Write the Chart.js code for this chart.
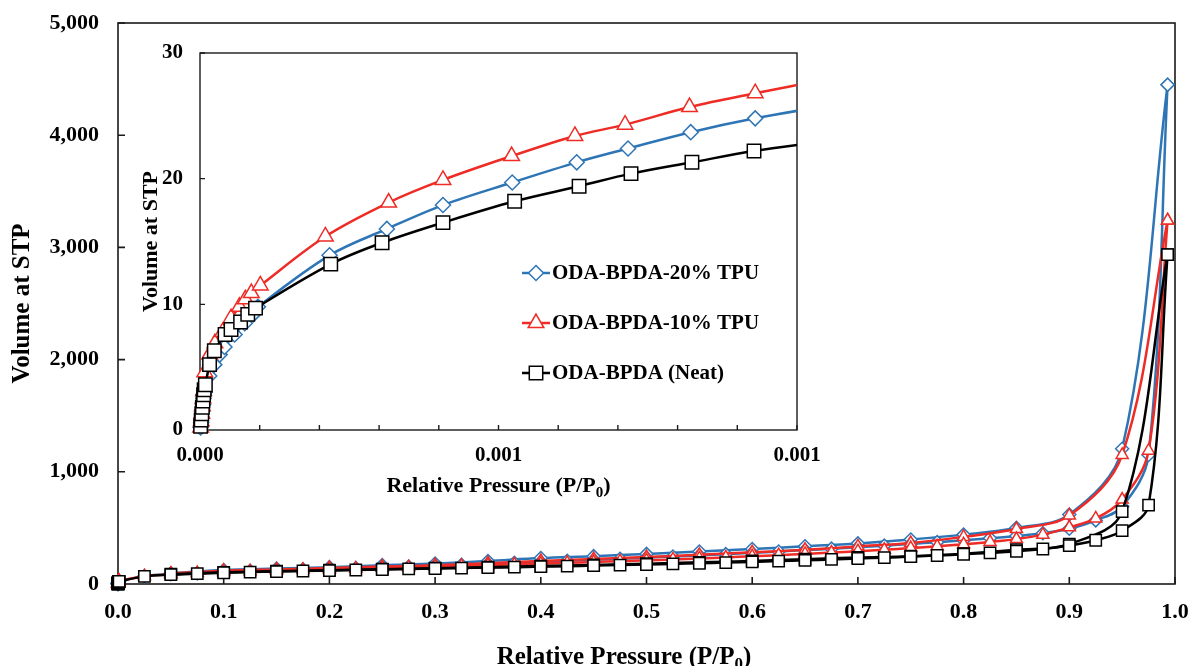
<!DOCTYPE html>
<html>
<head>
<meta charset="utf-8">
<script src="https://cdn.jsdelivr.net/npm/chart.js@4.4.0/dist/chart.umd.min.js"></script>
<style>
  html, body { margin: 0; padding: 0; background: #ffffff; }
  #wrap { position: relative; width: 1191px; height: 666px; overflow: hidden; }
  canvas { position: absolute; }
</style>
</head>
<body>
<div id="wrap">
  <canvas id="mainChart" width="1191" height="666" style="left:0;top:0;"></canvas>
  <canvas id="insetChart" width="700" height="470" style="left:130px;top:40px;"></canvas>
</div>
<script>
// ---------------- DATA ----------------
const seriesNames = ["ODA-BPDA-20% TPU", "ODA-BPDA-10% TPU", "ODA-BPDA (Neat)"];

// Main axis tick labels
const mainXTickLabels = ["0.0", "0.1", "0.2", "0.3", "0.4", "0.5", "0.6", "0.7", "0.8", "0.9", "1.0"];
const mainYTickLabels = ["0", "1,000", "2,000", "3,000", "4,000", "5,000"];
// Inset axis tick labels (major ticks only)
const insetXTickLabels = ["0.000", "0.001", "0.001"];
const insetYTickLabels = ["0", "10", "20", "30"];

// Low-pressure part of the adsorption branch (seen in the inset)
const blueLowX = [0.000001, 0.000002, 0.000003, 0.000004, 0.000005, 0.000006, 0.000008, 0.0000155, 0.000024, 0.000033, 0.000041, 0.000058, 0.000075, 0.000089, 0.000097, 0.000217, 0.000313, 0.000407, 0.000523, 0.000631, 0.000717, 0.000822, 0.00093, 0.00105];
const blueLowY = [0.2, 0.6, 1.0, 1.5, 2.0, 2.5, 3.0, 4.3, 5.2, 6.0, 6.6, 7.6, 8.5, 9.2, 9.8, 13.9, 16.0, 17.9, 19.7, 21.3, 22.4, 23.7, 24.8, 25.8];

const redLowX = [0.000001, 0.000002, 0.000003, 0.000004, 0.000005, 0.000006, 0.000008, 0.000016, 0.000025, 0.000038, 0.000052, 0.000066, 0.000076, 0.000086, 0.000101, 0.00021, 0.000316, 0.000407, 0.000522, 0.000628, 0.000712, 0.00082, 0.00093, 0.00105];
const redLowY = [0.2, 0.7, 1.3, 1.9, 2.5, 3.1, 4.6, 6.0, 6.9, 7.8, 8.9, 9.8, 10.4, 10.9, 11.5, 15.4, 18.1, 19.9, 21.8, 23.4, 24.3, 25.7, 26.8, 27.9];

const blackLowX = [0.000001, 0.000002, 0.000003, 0.000004, 0.000005, 0.000006, 0.000007, 0.000009, 0.000016, 0.000024, 0.000042, 0.000052, 0.000068, 0.00008, 0.000093, 0.000219, 0.000305, 0.000407, 0.000527, 0.000635, 0.000722, 0.000824, 0.000928, 0.00105];
const blackLowY = [0.3, 0.8, 1.3, 1.8, 2.3, 2.8, 3.2, 3.6, 5.2, 6.3, 7.6, 8.0, 8.6, 9.2, 9.7, 13.2, 14.9, 16.5, 18.2, 19.4, 20.4, 21.3, 22.2, 23.0];

// Adsorption branch, relative pressures 0.025 ... 0.975 and the top point
const adsX = [0.025, 0.05, 0.075, 0.1, 0.125, 0.15, 0.175, 0.2, 0.225, 0.25, 0.275, 0.3, 0.325, 0.35, 0.375, 0.4, 0.425, 0.45, 0.475, 0.5, 0.525, 0.55, 0.575, 0.6, 0.625, 0.65, 0.675, 0.7, 0.725, 0.75, 0.775, 0.8, 0.825, 0.85, 0.875, 0.9, 0.925, 0.95, 0.975, 0.993];
const blueAdsY  = [70, 88, 95, 108, 117, 125, 132, 138, 143, 150, 156, 163, 172, 180, 189, 198, 207, 216, 225, 235, 245, 255, 266, 278, 290, 302, 315, 328, 342, 357, 373, 390, 408, 428, 452, 492, 567, 690, 1150, 4450];
const redAdsY   = [70, 88, 98, 106, 113, 120, 126, 132, 138, 144, 150, 156, 162, 168, 175, 182, 189, 196, 203, 211, 219, 228, 237, 247, 257, 268, 280, 292, 305, 320, 336, 354, 375, 400, 440, 505, 584, 753, 1188, 3240];
const blackAdsY = [68, 83, 92, 100, 106, 111, 116, 120, 125, 129, 134, 138, 142, 146, 150, 155, 159, 164, 169, 174, 179, 185, 191, 197, 204, 211, 219, 227, 235, 244, 254, 265, 277, 292, 312, 342, 390, 475, 703, 2935];

// Desorption branch
const desX = [0.993, 0.95, 0.9, 0.85, 0.8, 0.75, 0.7, 0.65, 0.6, 0.55, 0.5, 0.45, 0.4, 0.35, 0.3, 0.25, 0.2, 0.15, 0.1, 0.05];
const blueDesY  = [4450, 1205, 620, 500, 440, 397, 362, 336, 312, 290, 268, 248, 231, 205, 182, 168, 150, 138, 125, 95];
const redDesY   = [3240, 1150, 611, 490, 420, 365, 335, 305, 282, 260, 240, 222, 205, 185, 168, 155, 142, 130, 118, 92];
const blackDesY = [2935, 645, 356, 305, 270, 248, 236, 221, 206, 193, 181, 170, 160, 150, 141, 132, 123, 114, 104, 88];

// ---------------- STYLE ----------------
const FONT = "'Liberation Serif', 'Times New Roman', serif";
const series = [
  { name: seriesNames[0], color: '#2E75B6', style: 'rectRot',  lowX: blueLowX,  lowY: blueLowY,  ads: blueAdsY,  des: blueDesY,  order: 3, rMain: 6.5, rInset: 7.5 },
  { name: seriesNames[1], color: '#EE2B24', style: 'triangle', lowX: redLowX,   lowY: redLowY,   ads: redAdsY,   des: redDesY,   order: 2, rMain: 7,   rInset: 9 },
  { name: seriesNames[2], color: '#000000', style: 'rect',     lowX: blackLowX, lowY: blackLowY, ads: blackAdsY, des: blackDesY, order: 1, rMain: 8,   rInset: 9.5 }
];

function pts(xs, ys) { return xs.map((x, i) => ({ x: x, y: ys[i] })); }

function lineDataset(label, data, s, r, order, clip) {
  return {
    label: label,
    data: data,
    showLine: true,
    borderColor: s.color,
    borderWidth: 2.5,
    tension: 0.35,
    borderJoinStyle: 'round',
    borderCapStyle: 'round',
    pointStyle: s.style,
    pointRadius: r,
    pointBorderWidth: 1.5,
    pointBorderColor: s.color,
    pointBackgroundColor: '#ffffff',
    order: order,
    clip: clip
  };
}

function drawMarker(ctx, style, r, x, y, color) {
  ctx.beginPath();
  if (style === 'rect') {
    const s = r * Math.SQRT1_2;
    ctx.rect(x - s, y - s, 2 * s, 2 * s);
  } else if (style === 'rectRot') {
    ctx.moveTo(x, y - r); ctx.lineTo(x + r, y); ctx.lineTo(x, y + r); ctx.lineTo(x - r, y); ctx.closePath();
  } else {
    ctx.moveTo(x, y - r);
    ctx.lineTo(x + Math.sin(2 * Math.PI / 3) * r, y + 0.5 * r);
    ctx.lineTo(x - Math.sin(2 * Math.PI / 3) * r, y + 0.5 * r);
    ctx.closePath();
  }
  ctx.fillStyle = '#ffffff'; ctx.fill();
  ctx.lineWidth = 1.5; ctx.strokeStyle = color; ctx.stroke();
}

// remove label overhang padding so the plot area is set by layout padding only
function noPad(s) { s.paddingTop = 0; s.paddingBottom = 0; s.paddingLeft = 0; s.paddingRight = 0; }

// Plot frame + inward tick marks
const boxTicks = {
  id: 'boxTicks',
  beforeDatasetsDraw(chart, args, o) {
    const { ctx, chartArea: ca, scales } = chart;
    ctx.save();
    ctx.strokeStyle = '#1a1a1a';
    ctx.lineWidth = o.lineWidth;
    ctx.strokeRect(ca.left, ca.top, ca.right - ca.left, ca.bottom - ca.top);
    ctx.beginPath();
    scales.x.ticks.forEach(t => {
      const px = scales.x.getPixelForValue(t.value);
      ctx.moveTo(px, ca.bottom); ctx.lineTo(px, ca.bottom - o.len);
    });
    scales.y.ticks.forEach(t => {
      const py = scales.y.getPixelForValue(t.value);
      ctx.moveTo(ca.left, py); ctx.lineTo(ca.left + o.len, py);
    });
    ctx.stroke();
    ctx.restore();
  }
};

// Axis titles (x title with subscript 0)
const axisTitles = {
  id: 'axisTitles',
  afterDraw(chart, args, o) {
    const { ctx, chartArea: ca } = chart;
    ctx.save();
    ctx.fillStyle = '#000';
    ctx.font = 'bold ' + o.size + 'px ' + FONT;
    // Y title
    ctx.save();
    ctx.translate(o.yX, (ca.top + ca.bottom) / 2 + (o.yDy || 0));
    ctx.rotate(-Math.PI / 2);
    ctx.textAlign = 'center';
    ctx.textBaseline = 'middle';
    ctx.fillText(o.yText, 0, 0);
    ctx.restore();
    // X title: main + subscript + tail
    const mainFont = 'bold ' + o.size + 'px ' + FONT;
    const subFont = 'bold ' + Math.round(o.size * 0.66) + 'px ' + FONT;
    ctx.textAlign = 'left';
    ctx.textBaseline = 'alphabetic';
    ctx.font = mainFont; const w1 = ctx.measureText(o.xMain).width; const w3 = ctx.measureText(o.xTail).width;
    ctx.font = subFont; const w2 = ctx.measureText(o.xSub).width;
    const total = w1 + w2 + w3;
    const cx = (o.xX != null) ? o.xX : (ca.left + ca.right) / 2;
    let x = cx - total / 2;
    const base = o.xY + o.size * 0.34;
    ctx.font = mainFont; ctx.fillText(o.xMain, x, base); x += w1;
    ctx.font = subFont; ctx.fillText(o.xSub, x, base + o.size * 0.2); x += w2;
    ctx.font = mainFont; ctx.fillText(o.xTail, x, base);
    ctx.restore();
  }
};

// Legend drawn inside inset plot
const insetLegend = {
  id: 'insetLegend',
  afterDatasetsDraw(chart, args, o) {
    const { ctx } = chart;
    ctx.save();
    series.forEach((s, i) => {
      const y = o.y0 + i * o.dy;
      ctx.beginPath();
      ctx.strokeStyle = s.color; ctx.lineWidth = 2.5;
      ctx.moveTo(o.x0, y); ctx.lineTo(o.x1, y); ctx.stroke();
      drawMarker(ctx, s.style, s.rInset, (o.x0 + o.x1) / 2, y, s.color);
      ctx.fillStyle = '#000';
      ctx.font = 'bold ' + o.size + 'px ' + FONT;
      ctx.textAlign = 'left'; ctx.textBaseline = 'middle';
      ctx.fillText(s.name, o.x1 + 2, y + 1);
    });
    ctx.restore();
  }
};

// ---------------- MAIN CHART ----------------
const mainDatasets = [];
series.forEach(s => {
  mainDatasets.push(lineDataset(s.name + ' adsorption', pts(s.lowX.concat(adsX), s.lowY.concat(s.ads)), s, s.rMain, s.order, false));
  mainDatasets.push(lineDataset(s.name + ' desorption', pts(desX, s.des), s, s.rMain, s.order, false));
});

new Chart(document.getElementById('mainChart'), {
  type: 'scatter',
  data: { datasets: mainDatasets },
  plugins: [boxTicks, axisTitles],
  options: {
    responsive: false,
    animation: false,
    events: [],
    layout: { padding: { top: 23, right: 16, left: 0, bottom: 0 } },
    scales: {
      x: {
        type: 'linear', min: 0, max: 1,
        afterFit: (s) => { s.height = 82; noPad(s); },
        grid: { display: false, drawTicks: false },
        border: { display: false },
        ticks: {
          stepSize: 0.1, autoSkip: false, maxRotation: 0, padding: 15.5,
          color: '#000', font: { family: FONT, size: 22, weight: 'bold' },
          callback: (v, i) => mainXTickLabels[i]
        }
      },
      y: {
        type: 'linear', min: 0, max: 5000,
        afterFit: (s) => { s.width = 118; noPad(s); },
        grid: { display: false, drawTicks: false },
        border: { display: false },
        ticks: {
          stepSize: 1000, autoSkip: false, padding: 19,
          color: '#000', font: { family: FONT, size: 22, weight: 'bold' },
          callback: (v, i) => mainYTickLabels[i]
        }
      }
    },
    plugins: {
      legend: { display: false },
      tooltip: { enabled: false },
      boxTicks: { len: 7, lineWidth: 1.6 },
      axisTitles: {
        size: 25, yText: 'Volume at STP', yX: 23,
        xMain: 'Relative Pressure (P/P', xSub: '0', xTail: ')', xX: 624, xY: 655
      }
    }
  }
});

// ---------------- INSET CHART ----------------
const insetDatasets = series.map(s =>
  lineDataset(s.name, pts(s.lowX, s.lowY), s, s.rInset, s.order, { left: 14, top: 0, right: 0, bottom: 14 })
);

new Chart(document.getElementById('insetChart'), {
  type: 'scatter',
  data: { datasets: insetDatasets },
  plugins: [boxTicks, axisTitles, insetLegend],
  options: {
    responsive: false,
    animation: false,
    events: [],
    layout: { padding: { top: 13, right: 33, left: 0, bottom: 0 } },
    scales: {
      x: {
        type: 'linear', min: 0, max: 0.001,
        afterFit: (s) => { s.height = 80; noPad(s); },
        grid: { display: false, drawTicks: false },
        border: { display: false },
        ticks: {
          stepSize: 0.0001, autoSkip: false, maxRotation: 0, padding: 13,
          color: '#000', font: { family: FONT, size: 21, weight: 'bold' },
          callback: (v, i) => (i % 5 === 0 ? insetXTickLabels[i / 5] : '')
        }
      },
      y: {
        type: 'linear', min: 0, max: 30,
        afterFit: (s) => { s.width = 70; noPad(s); },
        grid: { display: false, drawTicks: false },
        border: { display: false },
        ticks: {
          stepSize: 10, autoSkip: false, padding: 17,
          color: '#000', font: { family: FONT, size: 21, weight: 'bold' },
          callback: (v, i) => insetYTickLabels[i]
        }
      }
    },
    plugins: {
      legend: { display: false },
      tooltip: { enabled: false },
      boxTicks: { len: 5, lineWidth: 1.4 },
      axisTitles: {
        size: 22, yText: 'Volume at STP', yX: 21,
        xMain: 'Relative Pressure (P/P', xSub: '0', xTail: ')', xY: 445
      },
      insetLegend: { x0: 392, x1: 420, y0: 233, dy: 50, size: 21 }
    }
  }
});
</script>
</body>
</html>
